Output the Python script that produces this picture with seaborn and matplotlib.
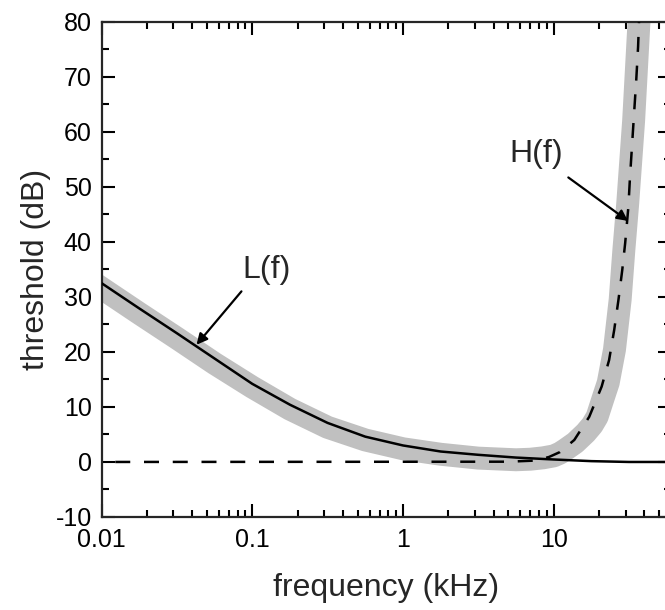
import matplotlib
matplotlib.use("Agg")
import matplotlib.pyplot as plt
import seaborn as sns
import numpy as np
from matplotlib.ticker import MultipleLocator, LogLocator, NullFormatter, FixedLocator

# ---- data ----
gray_f = [0.01, 0.0178, 0.0316, 0.0562, 0.1, 0.178, 0.316, 0.562, 1.0, 1.78, 3.16, 5.62,
          7.0, 8.5, 10.0, 11.0, 11.9, 13.9, 16.3, 18.0, 19.4, 21.4, 23.0, 25.3, 27.6,
          29.2, 31.0, 33.9, 36.8]
gray_db = [31.6, 27.0, 22.5, 17.9, 13.6, 9.6, 6.3, 4.0, 2.4, 1.4, 0.7, 0.4,
           0.5, 0.75, 1.1, 1.6, 2.2, 3.5, 5.3, 6.7, 8.2, 11.8, 14.4, 20.4, 29.5,
           38.5, 47.1, 62.0, 80.0]

L_f = [0.01, 0.0178, 0.0316, 0.0562, 0.1, 0.178, 0.316, 0.562, 1.0, 1.78, 3.16, 5.62,
       10.0, 17.8, 31.6, 60.0]
L_db = [32.5, 27.9, 23.4, 18.8, 14.2, 10.4, 7.1, 4.6, 3.0, 1.9, 1.3, 0.8,
        0.45, 0.15, 0.0, 0.0]

H_f = [0.01, 5.0, 7.5, 9.3, 11.0, 13.7, 17.2, 20.8, 23.3, 25.2, 26.9, 28.5, 29.8, 31.3,
       32.0, 33.6, 35.3, 36.3, 36.8]
H_db = [0.0, 0.05, 0.25, 0.9, 1.8, 4.0, 8.2, 13.7, 18.5, 24.0, 29.5, 34.9, 39.8, 46.4,
        51.3, 60.4, 69.5, 75.5, 80.0]

x_ticks = [0.01, 0.1, 1, 10]
x_ticklabels = ["0.01", "0.1", "1", "10"]
y_ticks = [-10, 0, 10, 20, 30, 40, 50, 60, 70, 80]

labels = ["L(f)", "H(f)"]
label_pos = [(0.124, 34.9), (7.62, 56.0)]
arrow_tail = [(0.0848, 31.0), (12.5, 51.7)]
arrow_head = [(0.0427, 21.3), (31.1, 43.8)]

# ---- styling ----
sns.set_style("ticks")
plt.rcParams["font.family"] = ["Liberation Sans", "DejaVu Sans"]
plt.rcParams["axes.unicode_minus"] = False

W, H = 665, 610
fig = plt.figure(figsize=(W / 100, H / 100), dpi=100)
left, right, bottom, top = 101.5, 671.0, 517.0, 21.7
ax = fig.add_axes([left / W, 1 - bottom / H, (right - left) / W, (bottom - top) / H])

sns.lineplot(x=gray_f, y=gray_db, ax=ax, color="#c0c0c0", lw=16.5, sort=False,
             estimator=None, solid_capstyle="projecting", solid_joinstyle="round", zorder=1)
sns.lineplot(x=L_f, y=L_db, ax=ax, color="black", lw=1.8, sort=False,
             estimator=None, zorder=3)
sns.lineplot(x=H_f, y=H_db, ax=ax, color="black", lw=1.8, sort=False,
             estimator=None, zorder=3)
ax.lines[-1].set_linestyle((6, (6, 5.5)))

ax.set_xscale("log")
ax.set_xlim(0.01, 60)
ax.set_ylim(-10, 80)

ax.xaxis.set_major_locator(FixedLocator(x_ticks))
ax.set_xticklabels(x_ticklabels)
ax.xaxis.set_minor_locator(LogLocator(base=10, subs=np.arange(2, 10), numticks=20))
ax.xaxis.set_minor_formatter(NullFormatter())
ax.yaxis.set_major_locator(FixedLocator(y_ticks))
ax.yaxis.set_minor_locator(MultipleLocator(5))

for s in ax.spines.values():
    s.set_linewidth(1.6)
    s.set_visible(True)
ax.tick_params(which="both", direction="in", top=True, right=True, width=1.5,
               labelsize=18, colors="black")
ax.tick_params(which="major", length=9.5)
ax.tick_params(axis="x", which="major", pad=8)
ax.tick_params(axis="y", which="major", pad=7)
ax.tick_params(which="minor", length=5)

ax.set_xlabel("frequency (kHz)", fontsize=23, labelpad=15)
ax.set_ylabel("threshold (dB)", fontsize=23, labelpad=3)

for txt, pos, tail, head in zip(labels, label_pos, arrow_tail, arrow_head):
    ax.text(pos[0], pos[1], txt, fontsize=23, ha="center", va="center", zorder=5)
    ax.annotate("", xy=head, xytext=tail,
                arrowprops=dict(arrowstyle="-|>", color="black", lw=1.6,
                                mutation_scale=16, shrinkA=0, shrinkB=0), zorder=5)

fig.savefig("out.png", dpi=100)
